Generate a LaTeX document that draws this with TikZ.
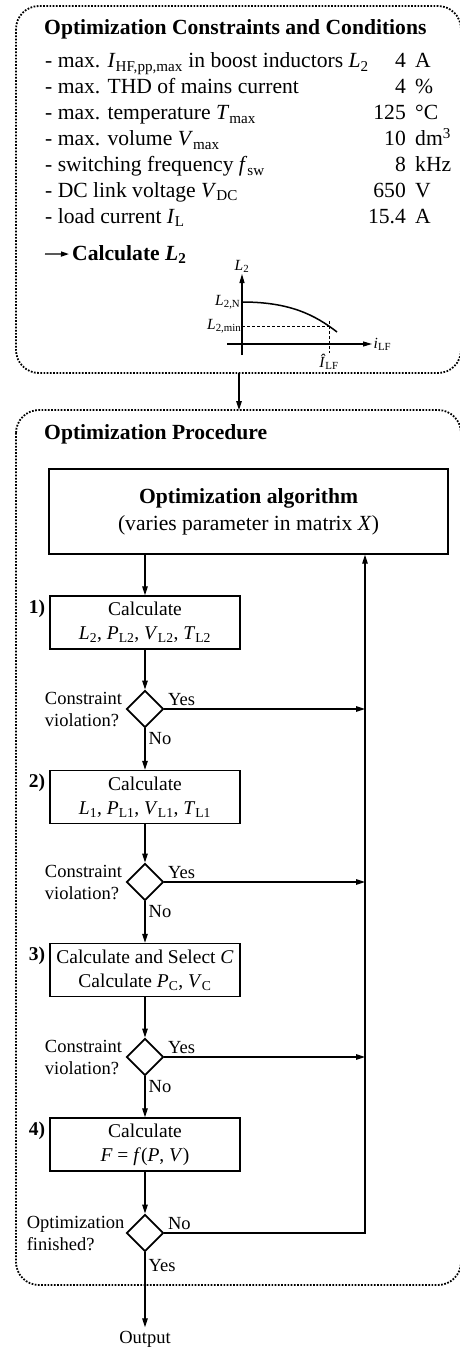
\documentclass[tikz,border=0pt]{standalone}
\usepackage{fontspec}
\setmainfont{Liberation Serif}
\usetikzlibrary{arrows.meta,shapes.geometric}
\newcommand{\isub}[2]{\textit{#1}\textsubscript{#2}}
\tikzset{
  dotframe/.style={line width=1.8pt, dash pattern=on 1.7pt off 1.5pt, rounded corners=23pt},
  flow/.style={line width=1.2pt, -{Triangle[length=9pt,width=5.5pt]}},
  listtext/.style={inner sep=0pt, font=\fontsize{21.6}{26}\selectfont},
  graphtext/.style={inner sep=1.5pt, font=\fontsize{15.5}{18}\selectfont},
  algbox/.style={draw, line width=1.3pt, minimum width=399pt, minimum height=85pt, align=center, font=\fontsize{21.6}{27}\selectfont},
  procbox/.style={draw, line width=1.3pt, minimum width=190pt, minimum height=53pt, inner sep=0pt, align=center, font=\fontsize{19.5}{24}\selectfont},
  decision/.style={draw, diamond, aspect=1, line width=1.8pt, minimum size=37pt, inner sep=0pt},
  sidetext/.style={align=left, font=\fontsize{18.5}{22}\selectfont},
  steptext/.style={inner sep=4pt, font=\fontsize{19.5}{24}\selectfont\bfseries},
  answer/.style={inner sep=3.5pt, font=\fontsize{18.5}{22}\selectfont}
}

\begin{document}
\begin{tikzpicture}[x=1pt, y=-1pt]
  \useasboundingbox (0,0) rectangle (459,1351);

  %%%%% FRAMES %%%%%
  \draw[dotframe] (16,6) rectangle (461,373);
  \draw[dotframe] (16,410) rectangle (461,1285);
  \coordinate (condOut) at (239,373);
  \coordinate (procIn) at (239,410);
  \draw[flow] (condOut) -- (procIn);

  %%%%% CONSTRAINTS %%%%%
  \node[listtext, anchor=base west] (condTitle) at (44,35) {\bfseries Optimization Constraints and Conditions};

  \node[listtext, anchor=base west] (cond1) at (45,68) {- max. \isub{I}{HF,pp,max} in boost inductors \isub{L}{2}};
  \node[listtext, anchor=base west] (cond2) at (45,94) {- max. THD of mains current};
  \node[listtext, anchor=base west] (cond3) at (45,120) {- max. temperature \isub{T}{max}};
  \node[listtext, anchor=base west] (cond4) at (45,146) {- max. volume \isub{V}{max}};
  \node[listtext, anchor=base west] (cond5) at (45,172) {- switching frequency \isub{f}{sw}};
  \node[listtext, anchor=base west] (cond6) at (45,197.5) {- DC link voltage \isub{V}{DC}};
  \node[listtext, anchor=base west] (cond7) at (45,223) {- load current \isub{I}{L}};

  \node[listtext, anchor=base east] (val1) at (406,68) {4};
  \node[listtext, anchor=base east] (val2) at (406,94) {4};
  \node[listtext, anchor=base east] (val3) at (406,120) {125};
  \node[listtext, anchor=base east] (val4) at (406,146) {10};
  \node[listtext, anchor=base east] (val5) at (406,172) {8};
  \node[listtext, anchor=base east] (val6) at (406,197.5) {650};
  \node[listtext, anchor=base east] (val7) at (406,223) {15.4};

  \node[listtext, anchor=base west] (unit1) at (415,68) {A};
  \node[listtext, anchor=base west] (unit2) at (415,94) {\%};
  \node[listtext, anchor=base west] (unit3) at (415,120) {°C};
  \node[listtext, anchor=base west] (unit4) at (415,146) {dm\textsuperscript{3}};
  \node[listtext, anchor=base west] (unit5) at (415,172) {kHz};
  \node[listtext, anchor=base west] (unit6) at (415,197.5) {V};
  \node[listtext, anchor=base west] (unit7) at (415,223) {A};

  \coordinate (calcTail) at (45,254);
  \node[listtext, anchor=base west] (calcL) at (72,260) {\bfseries Calculate \textit{L}\textsubscript{2}};
  \draw[line width=1.4pt, -{Triangle[length=8pt,width=5pt]}, shorten >=3pt] (calcTail) -- (calcL.west);

  %%%%% L2 CURVE %%%%%
  \coordinate (yTail) at (242,355);
  \coordinate (yTip) at (242,274);
  \coordinate (xTail) at (227,344);
  \coordinate (xTip) at (372,344);
  \coordinate (nomPt) at (242,302);
  \coordinate (minPt) at (242,326);
  \coordinate (endPt) at (337,332);
  \coordinate (peakTop) at (329,321);
  \coordinate (peakBot) at (329,353);
  \draw[line width=1.1pt, -{Triangle[length=9pt,width=5pt]}] (yTail) -- (yTip);
  \draw[line width=1.1pt, -{Triangle[length=9pt,width=5pt]}] (xTail) -- (xTip);
  \draw[line width=1.5pt] (nomPt) .. controls (290,302) and (315,315) .. (endPt);
  \draw[line width=0.6pt, dash pattern=on 3pt off 2pt] (minPt) -- (minPt -| peakTop);
  \draw[line width=0.6pt, dash pattern=on 3pt off 2pt] (peakTop) -- (peakBot);
  \node[graphtext, above] (yLabel) at (yTip) {\isub{L}{2}};
  \node[graphtext, left] (nomLabel) at (nomPt) {\isub{L}{2,N}};
  \node[graphtext, left, inner sep=0.5pt] (minLabel) at (minPt) {\isub{L}{2,min}};
  \node[graphtext, right] (xLabel) at (xTip) {\isub{i}{LF}};
  \node[graphtext, below, inner sep=0.5pt] (peakLabel) at (peakBot) {\isub{\^I}{LF}};

  %%%%% PROCEDURE %%%%%
  \node[listtext, anchor=base west] (procTitle) at (44,439) {\bfseries Optimization Procedure};

  \node[algbox] (alg) at (248.5,511.5) {\textbf{Optimization algorithm}\\(varies parameter in matrix \textit{X})};

  \node[procbox] (calc1) at (145,622.5) {Calculate\\\isub{L}{2}, \isub{P}{L2}, \isub{V}{L2}, \isub{T}{L2}};
  \node[decision] (dec1) at (145,709) {};
  \node[procbox] (calc2) at (145,797) {Calculate\\\isub{L}{1}, \isub{P}{L1}, \isub{V}{L1}, \isub{T}{L1}};
  \node[decision] (dec2) at (145,882) {};
  \node[procbox] (calc3) at (145,970) {Calculate and Select \textit{C}\\Calculate \isub{P}{C}, \isub{V}{C}};
  \node[decision] (dec3) at (145,1057) {};
  \node[procbox] (calc4) at (145,1144.5) {Calculate\\\textit{F} = \textit{f}(\textit{P}, \textit{V})};
  \node[decision] (dec4) at (145,1233) {};
  \node[sidetext] (out) at (145,1339) {Output};

  \node[steptext, anchor=north east] (step1) at (calc1.north west) {1)};
  \node[steptext, anchor=north east] (step2) at (calc2.north west) {2)};
  \node[steptext, anchor=north east] (step3) at (calc3.north west) {3)};
  \node[steptext, anchor=north east] (step4) at (calc4.north west) {4)};

  \node[sidetext, left] (viol1) at (dec1.west) {Constraint\\violation?};
  \node[sidetext, left] (viol2) at (dec2.west) {Constraint\\violation?};
  \node[sidetext, left] (viol3) at (dec3.west) {Constraint\\violation?};
  \node[sidetext, left, inner sep=1pt] (finish) at (dec4.west) {Optimization\\finished?};

  \node[answer, above right] (yes1) at (dec1.east) {Yes};
  \node[answer, above right] (yes2) at (dec2.east) {Yes};
  \node[answer, above right] (yes3) at (dec3.east) {Yes};
  \node[answer, above right] (no4) at (dec4.east) {No};
  \node[answer, below right] (no1) at (dec1.south) {No};
  \node[answer, below right] (no2) at (dec2.south) {No};
  \node[answer, below right] (no3) at (dec3.south) {No};
  \node[answer, below right, yshift=-3pt] (yes4) at (dec4.south) {Yes};

  \coordinate (retX) at (365,0);
  \coordinate (ret) at (alg.south -| retX);

  \draw[flow] (alg.south -| calc1.north) -- (calc1.north);
  \draw[flow] (calc1) -- (dec1);
  \draw[flow] (dec1) -- (calc2);
  \draw[flow] (calc2) -- (dec2);
  \draw[flow] (dec2) -- (calc3);
  \draw[flow] (calc3) -- (dec3);
  \draw[flow] (dec3) -- (calc4);
  \draw[flow] (calc4) -- (dec4);
  \draw[flow] (dec4) -- (out);

  \draw[flow] (dec1.east) -- (dec1.east -| ret);
  \draw[flow] (dec2.east) -- (dec2.east -| ret);
  \draw[flow] (dec3.east) -- (dec3.east -| ret);
  \draw[flow] (dec4.east) -| (ret);
\end{tikzpicture}
\end{document}
